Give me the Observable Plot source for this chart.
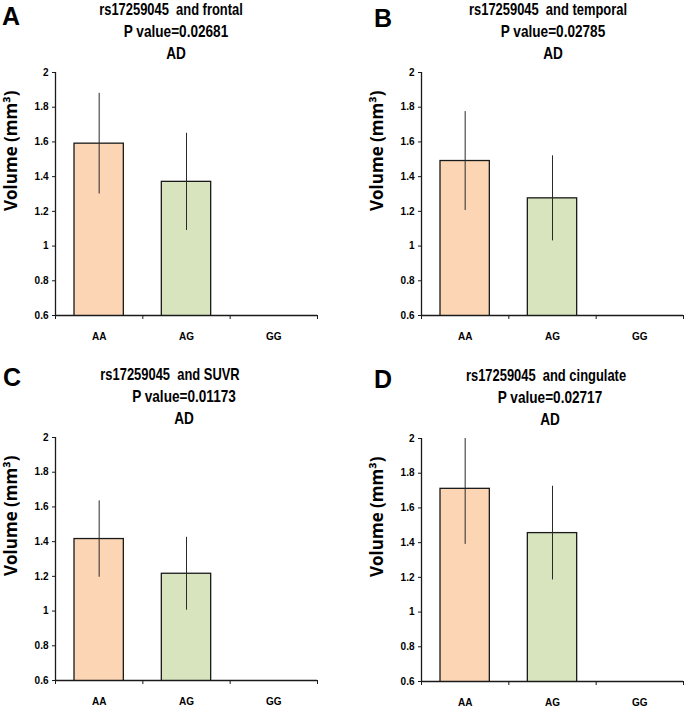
<!DOCTYPE html>
<html><head><meta charset="utf-8">
<script src="https://cdn.jsdelivr.net/npm/d3@7"></script>
<script src="https://cdn.jsdelivr.net/npm/@observablehq/plot@0.6"></script>
<style>
body{margin:0;background:#fff;}
#root{position:relative;width:685px;height:707px;overflow:hidden;background:#fff;}
.panel{position:absolute;}
.t{position:absolute;font-family:"Liberation Sans",Arial,sans-serif;font-weight:bold;font-size:17px;line-height:17px;white-space:pre;color:#000;transform:translateX(-50%) scaleX(0.8);}
.t1{transform:translateX(-50%) scaleX(0.76);}
.L{position:absolute;font-family:"Liberation Sans",Arial,sans-serif;font-weight:bold;font-size:25px;line-height:25px;color:#000;}
</style>
</head><body><div id="root"></div>
<script>
// ---- data ----
const categories = ["AA", "AG", "GG"];
const barColors = ["#FCD5B5", "#D7E4BD", "#DCE6F2"];
const snp = "rs17259045";
const regions = ["frontal", "temporal", "SUVR", "cingulate"];
const pValues = ["0.02681", "0.02785", "0.01173", "0.02717"];
const group = "AD";
const panelLetters = ["A", "B", "C", "D"];
const frontalMean = [1.59, 1.37, null];
const frontalErr = [0.29, 0.28, null];
const temporalMean = [1.49, 1.275, null];
const temporalErr = [0.285, 0.245, null];
const suvrMean = [1.415, 1.215, null];
const suvrErr = [0.22, 0.21, null];
const cingulateMean = [1.71, 1.455, null];
const cingulateErr = [0.32, 0.27, null];
const yTicks = [0.6, 0.8, 1, 1.2, 1.4, 1.6, 1.8, 2];
const yLabel = "Volume (mm³)";

const means = [frontalMean, temporalMean, suvrMean, cingulateMean];
const errs = [frontalErr, temporalErr, suvrErr, cingulateErr];

// ---- layout ----
const offsets = [[0, 0], [366, 0], [0, 365], [366, 366]];
const titleCenters = [[171, 176], [182, 187], [170, 184], [180, 184]];
const letterPos = [[2, 4], [8, 6], [3, 0], [8, 1]];
const root = document.getElementById("root");

function addText(cls, txt, left, top, parent) {
  const d = document.createElement("div");
  d.className = cls;
  d.textContent = txt;
  d.style.left = left + "px";
  d.style.top = top + "px";
  parent.appendChild(d);
}

regions.forEach((reg, p) => {
  const [ox, oy] = offsets[p];
  const rows = categories.map((c, i) => ({cat: c, i, mean: means[p][i], err: errs[p][i]}))
    .filter(d => d.mean != null);
  const chart = Plot.plot({
    width: 330, height: 345,
    marginLeft: 55, marginRight: 13, marginTop: 72, marginBottom: 30,
    style: {fontFamily: "'Liberation Sans', Arial, sans-serif", fontSize: "10px", fontWeight: "bold", background: "transparent", overflow: "visible"},
    x: {domain: [0, 3], axis: null},
    y: {domain: [0.6, 2], axis: null},
    color: {domain: categories, range: barColors},
    marks: [
      Plot.rectY(rows, {x1: "i", x2: d => d.i + 1, y: "mean", fill: "cat", stroke: "#1a1a1a", strokeWidth: 1.3, insetLeft: 19, insetRight: 19, clip: true}),
      Plot.ruleX(rows, {x: d => d.i + 0.5, y1: d => d.mean - d.err, y2: d => d.mean + d.err, stroke: "#2a2a2a", strokeWidth: 1, clip: true}),
      Plot.ruleY([0.6], {stroke: "#1a1a1a", strokeWidth: 1.3}),
      Plot.ruleX([0], {stroke: "#1a1a1a", strokeWidth: 1.3}),
      Plot.axisY({ticks: yTicks, tickSize: 3, tickPadding: 4, label: null, tickFormat: d => String(+d.toFixed(1)), stroke: "#1a1a1a"}),
      Plot.axisX({ticks: [0, 1, 2, 3], tickSize: 4, label: null, tickFormat: () => "", stroke: "#1a1a1a"}),
      Plot.axisX({ticks: [0.5, 1.5, 2.5], tickSize: 0, tickPadding: 17, label: null, tickFormat: v => categories[Math.floor(v)]}),
      Plot.text([yLabel], {frameAnchor: "left", dx: -44, dy: 17, rotate: -90, fontSize: 17, fontWeight: "bold", fontFamily: "'Open Sans', sans-serif", fill: "#000"})
    ]
  });
  const wrap = document.createElement("div");
  wrap.className = "panel";
  wrap.style.left = ox + "px";
  wrap.style.top = oy + "px";
  wrap.style.width = "330px";
  wrap.style.height = "345px";
  wrap.appendChild(chart);
  root.appendChild(wrap);
  const [c1, c2] = titleCenters[p];
  addText("t t1", `${snp}  and ${reg}`, ox + c1, oy + 1, root);
  addText("t", `P value=${pValues[p]}`, ox + c2, oy + 23, root);
  addText("t", group, ox + c2, oy + 45, root);
  const [lx, ly] = letterPos[p];
  addText("L", panelLetters[p], ox + lx, oy + ly, root);
});
</script>
</body></html>
